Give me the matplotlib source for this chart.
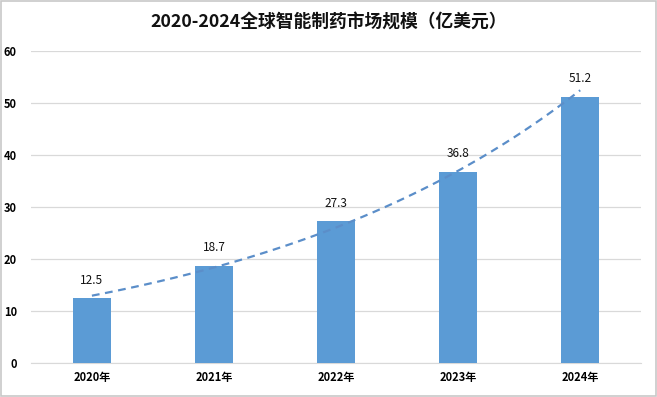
import matplotlib.pyplot as plt
import numpy as np

plt.rcParams['font.family'] = ['Noto Sans CJK SC', 'DejaVu Sans']

years = ['2020年', '2021年', '2022年', '2023年', '2024年']
market_size = [12.5, 18.7, 27.3, 36.8, 51.2]
title = '2020-2024全球智能制药市场规模（亿美元）'

bar_color = '#5B9BD5'
trend_color = '#5B8EC9'

fig = plt.figure(figsize=(6.57, 3.97), dpi=100)
ax = fig.add_axes([0.047, 0.0856, 0.929, 0.786])

x = np.arange(len(years))
bars = ax.bar(x, market_size, width=0.31, color=bar_color, zorder=3)

# exponential trendline like the one excel adds
coef = np.polyfit(x, np.log(market_size), 1)
xs = np.linspace(0, len(years) - 1, 100)
ax.plot(xs, np.exp(np.polyval(coef, xs)), linestyle=(0, (3.5, 2.5)),
        color=trend_color, linewidth=1.6, zorder=4)

for xi, v in zip(x, market_size):
    ax.text(xi, v + 2.2, f'{v}', ha='center', va='bottom', fontsize=8.5,
            color='#111111', zorder=5)

ax.set_xlim(-0.5, len(years) - 0.5)
ax.set_ylim(0, 60)
ax.set_yticks(range(0, 61, 10))
ax.set_xticks(x)
ax.set_xticklabels(years, fontsize=8, fontweight='bold')
ax.tick_params(axis='y', labelsize=8, length=0, pad=10)
ax.tick_params(axis='x', length=0, pad=6)
for lab in ax.get_yticklabels():
    lab.set_fontweight('bold')

ax.grid(axis='y', color='#D9D9D9', linewidth=0.9, zorder=0)
for s in ['top', 'right', 'left']:
    ax.spines[s].set_visible(False)
ax.spines['bottom'].set_color('#D9D9D9')

fig.text(0.5, 0.945, title, ha='center', va='center', fontsize=12.8,
         fontweight='bold', color='#111111')

fig.patches.append(plt.Rectangle((0.002, 0.003), 0.996, 0.994, transform=fig.transFigure,
                                 fill=False, edgecolor='#C8C8C8', linewidth=1.2))

fig.savefig('out.png', dpi=100)
